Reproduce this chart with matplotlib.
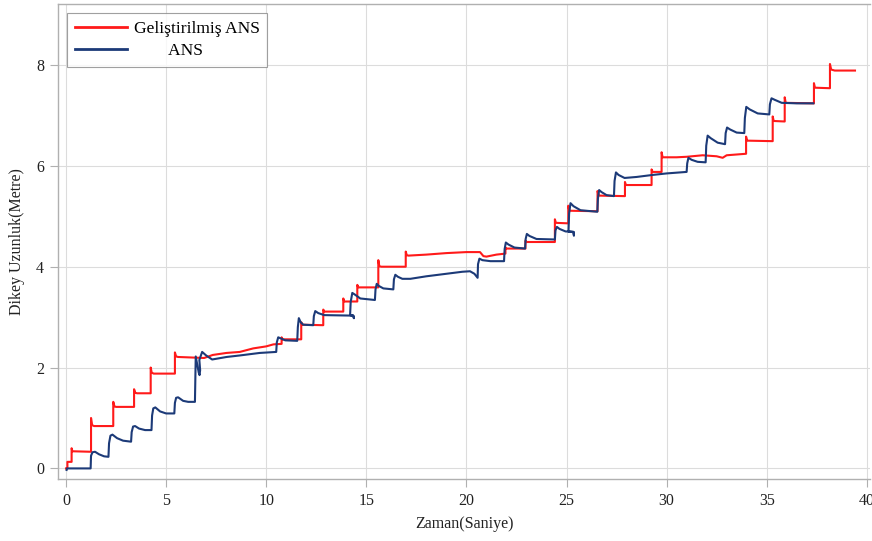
import matplotlib
matplotlib.use("Agg")
import matplotlib.pyplot as plt

# ---------------- data ----------------
red_t = [0.00, 0.07, 0.07, 0.28, 0.28, 0.32, 1.25, 1.25, 1.30, 1.40, 2.36, 2.36, 2.42, 2.50,
         3.40, 3.40, 3.46, 3.55, 4.23, 4.23, 4.28, 4.38, 5.44, 5.44, 5.50, 5.60, 6.90, 7.33,
         8.02, 8.68, 9.35, 10.00, 10.36, 10.77, 10.77, 10.82, 11.75, 11.75, 11.80, 12.85,
         12.85, 12.90, 13.85, 13.85, 13.90, 14.55, 14.55, 14.60, 15.60, 15.60, 15.65, 15.75,
         16.97, 16.97, 17.02, 17.10, 18.00, 19.00, 20.00, 20.68, 20.85, 21.00, 21.50, 21.95,
         21.95, 22.00, 22.95, 22.95, 23.00, 24.42, 24.42, 24.47, 25.09, 25.09, 25.14, 26.55,
         26.55, 26.62, 27.92, 27.92, 27.97, 29.25, 29.25, 29.30, 29.75, 29.75, 29.80, 30.50,
         31.00, 31.80, 32.50, 32.80, 33.00, 33.97, 33.97, 34.02, 35.30, 35.30, 35.35, 35.90,
         35.90, 35.95, 37.36, 37.36, 37.41, 38.16, 38.16, 38.22, 38.40, 39.41]
red_y = [0.00, 0.00, 0.13, 0.13, 0.40, 0.34, 0.33, 1.00, 0.86, 0.84, 0.84, 1.32, 1.23, 1.22,
         1.22, 1.57, 1.50, 1.49, 1.49, 2.00, 1.90, 1.88, 1.88, 2.30, 2.22, 2.21, 2.19, 2.25,
         2.29, 2.31, 2.38, 2.42, 2.46, 2.47, 2.60, 2.56, 2.56, 2.90, 2.85, 2.84,
         3.15, 3.11, 3.11, 3.37, 3.31, 3.31, 3.64, 3.59, 3.59, 4.13, 4.01, 4.00,
         4.00, 4.30, 4.23, 4.22, 4.24, 4.27, 4.29, 4.29, 4.21, 4.20, 4.24, 4.26,
         4.38, 4.36, 4.36, 4.52, 4.49, 4.49, 4.94, 4.87, 4.86, 5.21, 5.11, 5.10,
         5.50, 5.41, 5.40, 5.68, 5.62, 5.62, 5.93, 5.88, 5.88, 6.27, 6.17, 6.17,
         6.18, 6.21, 6.19, 6.16, 6.21, 6.24, 6.58, 6.50, 6.49, 6.98, 6.89, 6.88,
         7.36, 7.25, 7.24, 7.64, 7.55, 7.54, 8.02, 7.91, 7.89, 7.89]

blue_t = [0.03, 0.05, 1.23, 1.25, 1.32, 1.45, 1.65, 1.90, 2.12, 2.15, 2.22, 2.32, 2.55, 2.85,
          3.25, 3.28, 3.35, 3.45, 3.65, 3.95, 4.27, 4.30, 4.36, 4.46, 4.70, 5.00, 5.41, 5.44,
          5.50, 5.60, 5.85, 6.10, 6.44, 6.48, 6.56, 6.63, 6.67, 6.70, 6.66, 6.80, 7.00, 7.30,
          7.60, 8.02, 8.68, 9.68, 10.50, 10.53, 10.60, 10.72, 10.95, 11.55, 11.58, 11.63,
          11.72, 11.85, 12.35, 12.38, 12.45, 12.60, 12.90, 14.35, 14.38, 14.35, 14.19, 14.22,
          14.30, 14.42, 14.70, 15.43, 15.46, 15.52, 15.62, 15.85, 16.35, 16.38, 16.45, 16.58,
          16.80, 17.20, 18.00, 19.00, 19.80, 20.18, 20.40, 20.56, 20.58, 20.65, 20.80, 21.20,
          21.88, 21.91, 21.97, 22.10, 22.40, 22.93, 22.96, 23.02, 23.15, 23.50, 24.42, 24.45,
          24.52, 24.65, 24.95, 25.35, 25.37, 25.35, 25.10, 25.13, 25.20, 25.35, 25.70, 26.54,
          26.57, 26.63, 26.75, 27.00, 27.37, 27.40, 27.47, 27.60, 27.90, 28.50, 29.30, 30.00,
          31.00, 31.03, 31.09, 31.25, 31.55, 31.95, 31.98, 32.05, 32.20, 32.55, 32.92, 32.95,
          33.02, 33.18, 33.50, 33.88, 33.91, 33.98, 34.15, 34.55, 35.13, 35.16, 35.24, 35.40,
          35.75, 36.50, 37.33]
blue_y = [-0.03, 0.00, 0.00, 0.25, 0.32, 0.33, 0.28, 0.24, 0.23, 0.50, 0.65, 0.67, 0.60, 0.55,
          0.53, 0.72, 0.83, 0.84, 0.79, 0.76, 0.76, 1.05, 1.19, 1.21, 1.13, 1.09, 1.09, 1.30,
          1.40, 1.41, 1.34, 1.32, 1.32, 2.22, 2.05, 1.90, 1.85, 1.95, 2.15, 2.31, 2.24, 2.16,
          2.18, 2.21, 2.24, 2.29, 2.31, 2.50, 2.60, 2.58, 2.54, 2.53, 2.80, 2.98,
          2.90, 2.85, 2.84, 3.02, 3.12, 3.08, 3.04, 3.03, 2.98, 3.03, 3.04, 3.30,
          3.48, 3.45, 3.37, 3.34, 3.55, 3.66, 3.62, 3.57, 3.55, 3.75, 3.84, 3.80,
          3.76, 3.76, 3.81, 3.86, 3.90, 3.91, 3.86, 3.78, 4.05, 4.16, 4.13, 4.11,
          4.11, 4.35, 4.48, 4.44, 4.38, 4.36, 4.55, 4.65, 4.61, 4.55, 4.54, 4.72,
          4.79, 4.75, 4.70, 4.69, 4.62, 4.69, 4.70, 5.05, 5.26, 5.20, 5.12, 5.09,
          5.35, 5.52, 5.48, 5.42, 5.40, 5.70, 5.87, 5.82, 5.76, 5.78, 5.82, 5.85,
          5.88, 6.05, 6.16, 6.12, 6.08, 6.07, 6.40, 6.60, 6.55, 6.46, 6.43, 6.65,
          6.76, 6.72, 6.66, 6.65, 6.95, 7.17, 7.12, 7.04, 7.02, 7.22, 7.34, 7.31,
          7.25, 7.24, 7.24]

x_ticks = [0, 5, 10, 15, 20, 25, 30, 35, 40]
y_ticks = [0, 2, 4, 6, 8]
label_red = "Geliştirilmiş ANS"
label_blue = "        ANS"
x_label = "Zaman(Saniye)"
y_label = "Dikey Uzunluk(Metre)"

# ---------------- figure ----------------
plt.rcParams['font.family'] = ['Liberation Serif', 'DejaVu Serif']
fig = plt.figure(figsize=(8.72, 5.41), dpi=100)
ax = fig.add_axes([58/872, 62/541, 812/872, 475/541])

ax.plot(red_t, red_y, color='#ff1a1a', lw=1.5, label=label_red, zorder=3)
ax.plot(blue_t, blue_y, color='#1c3a78', lw=1.5, label=label_blue, zorder=4)

ax.set_xlim(-0.40, 40.16)
ax.set_ylim(-0.21, 9.21)
ax.set_xticks(x_ticks)
ax.set_yticks(y_ticks)
ax.grid(True, color='#dcdcdc', lw=0.8)
ax.set_axisbelow(True)

for side in ['left', 'bottom', 'top', 'right']:
    ax.spines[side].set_color('#b0b0b0')
    ax.spines[side].set_linewidth(1.0)
ax.spines['right'].set_visible(False)
ax.tick_params(axis='both', direction='out', length=6, color='#b0b0b0',
               labelsize=11.5, labelcolor='#222222', pad=4)

ax.set_xlabel(x_label, fontsize=11.5, color='#222222', labelpad=5)
ax.set_ylabel(y_label, fontsize=11.5, color='#222222', labelpad=8)

leg = ax.legend(loc='upper left', bbox_to_anchor=(67/872, 1 - 13/541),
                bbox_transform=fig.transFigure, borderaxespad=0,
                fontsize=12.6, frameon=True, fancybox=False, handlelength=3.0,
                handletextpad=0.35, borderpad=0.45, labelspacing=0.3)
leg.get_frame().set_edgecolor('#888888')
leg.get_frame().set_linewidth(0.8)
for line in leg.get_lines():
    line.set_linewidth(2.0)

fig.savefig('out.png', dpi=100)
